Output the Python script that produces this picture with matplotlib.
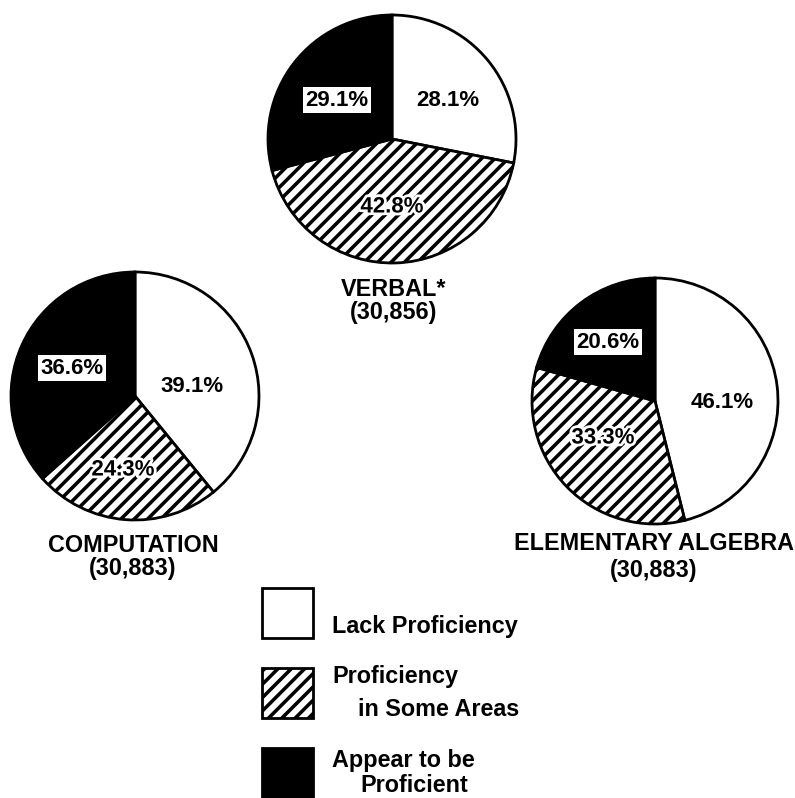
import matplotlib
matplotlib.use("Agg")
import matplotlib.pyplot as plt
import matplotlib.patheffects as pe
from matplotlib.patches import Rectangle

# ---- data ----
categories = ["Lack Proficiency", "Proficiency\nin Some Areas", "Appear to be\nProficient"]
pie_titles = ["VERBAL*", "COMPUTATION", "ELEMENTARY ALGEBRA"]
pie_counts = ["(30,856)", "(30,883)", "(30,883)"]
verbal = [28.1, 42.8, 29.1]
computation = [39.1, 24.3, 36.6]
algebra = [46.1, 33.3, 20.6]

W, H = 795, 798
DPI = 80
plt.rcParams["font.family"] = ["Liberation Sans", "DejaVu Sans"]
plt.rcParams["hatch.linewidth"] = 3.2

fig = plt.figure(figsize=(W / DPI, H / DPI), dpi=DPI)
ax = fig.add_axes([0, 0, 1, 1])

def Y(py):
    return H - py

colors = ["white", "white", "black"]
hatches = [None, "//", None]

layouts = [
    dict(vals=verbal, cx=392, cy=139, r=124,
         lab=[(448, 100), (392, 207), (337, 100)], tx=394, ty=290, cy2=313),
    dict(vals=computation, cx=135, cy=396, r=124,
         lab=[(192, 386), (123, 470), (72, 368)], tx=133, ty=545, cy2=569),
    dict(vals=algebra, cx=655, cy=401, r=123,
         lab=[(722, 403), (603, 438), (608, 342)], tx=654, ty=544, cy2=570),
]

for i, L in enumerate(layouts):
    wedges, _ = ax.pie(L["vals"], colors=colors, startangle=90, counterclock=False,
                       center=(L["cx"], Y(L["cy"])), radius=L["r"],
                       wedgeprops=dict(edgecolor="black", linewidth=2.5))
    for w, h in zip(wedges, hatches):
        if h:
            w.set_hatch(h)
    for k, (v, (lx, ly)) in enumerate(zip(L["vals"], L["lab"])):
        kw = {}
        if k == 2:
            kw["bbox"] = dict(boxstyle="square,pad=0.12", fc="white", ec="none")
        elif k == 1:
            kw["path_effects"] = [pe.withStroke(linewidth=5, foreground="white")]
        ax.text(lx, Y(ly), f"{v:.1f}%", ha="center", va="center",
                fontsize=20, fontweight="bold", color="black", zorder=5, **kw)
    ax.text(L["tx"], Y(L["ty"]), pie_titles[i], ha="center", va="center",
            fontsize=21, fontweight="bold")
    ax.text(L["tx"], Y(L["cy2"]), pie_counts[i], ha="center", va="center",
            fontsize=21, fontweight="bold")

# legend
leg_boxes = [(262, 588), (262, 668), (262, 748)]
leg_text = [[(332, 627)], [(332, 677), (358, 710)], [(332, 760), (360, 785)]]
for k, ((bx, by), cat) in enumerate(zip(leg_boxes, categories)):
    rect = Rectangle((bx, Y(by + 50)), 51, 50, facecolor=colors[k], edgecolor="black",
                     linewidth=2.5, hatch=hatches[k])
    ax.add_patch(rect)
    for line, (tx, ty) in zip(cat.split("\n"), leg_text[k]):
        ax.text(tx, Y(ty), line, ha="left", va="center", fontsize=21, fontweight="bold")

ax.set_xlim(0, W)
ax.set_ylim(0, H)
ax.set_aspect("auto")
ax.axis("off")
fig.savefig("out.png", dpi=DPI, facecolor="white")
